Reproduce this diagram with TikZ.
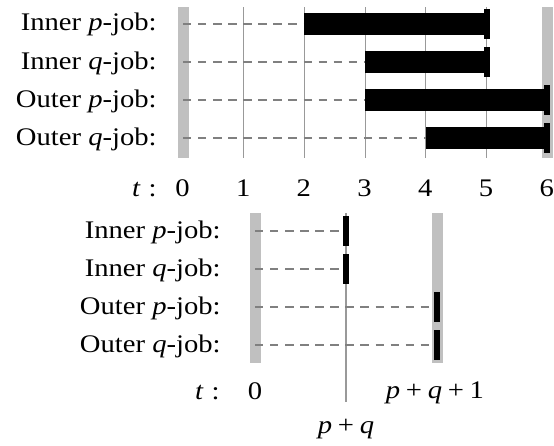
\documentclass[tikz,border=0pt]{standalone}
\usepackage{fontspec}
\setmainfont{Liberation Serif}
\definecolor{barg}{HTML}{C0C0C0}
\definecolor{dashg}{HTML}{808080}
\definecolor{lineg}{HTML}{999999}
\newcommand{\jp}{\textit{p}}
\newcommand{\jq}{\textit{q}}
\newcommand{\plus}{\hspace{0.2em}+\hspace{0.2em}}
\begin{document}
\begin{tikzpicture}[x=0.75pt,y=-0.75pt,
  txt/.style={font=\fontsize{19}{21}\selectfont, xscale=1.13, inner sep=0pt},
  lbl/.style={txt, anchor=base east},
  num/.style={txt, anchor=base},
  gbar/.style={fill=barg},
  tick/.style={draw=lineg, line width=0.85pt},
  dsh/.style={draw=dashg, line width=1.6pt, dash pattern=on 6.3pt off 5pt},
  jobbar/.style={fill=black},
]
\useasboundingbox (0,0) rectangle (554,446);

% ---------- top diagram ----------
\def\xo{183}\def\u{60.7}
\fill[gbar] (177.5,7) rectangle (188.5,158);
\fill[gbar] ({\xo+6*\u-5.5},7) rectangle ({\xo+6*\u+5.5},158);
\foreach \i in {1,...,5}
  \draw[tick] ({\xo+\i*\u},7) -- ({\xo+\i*\u},158);

\foreach \y/\s/\e [count=\k] in {24/2/5, 62/3/5, 100/3/6, 138/4/6} {
  \coordinate (ts\k) at (\xo,\y);
  \coordinate (tb\k) at ({\xo+\s*\u},\y);
  \coordinate (te\k) at ({\xo+\e*\u},\y);
  \draw[dsh] (ts\k) -- (tb\k);
  \fill[jobbar] ([yshift=-8.25pt]tb\k) rectangle ([yshift=8.25pt]te\k);
  \fill[jobbar] ([xshift=-2.25pt,yshift=-11.25pt]te\k) rectangle ([xshift=2.25pt,yshift=11.25pt]te\k);
}

\node[lbl] (l1) at (157,31) {Inner \jp-job:};
\node[lbl] (l2) at (157,69) {Inner \jq-job:};
\node[lbl] (l3) at (157,107) {Outer \jp-job:};
\node[lbl] (l4) at (157,145) {Outer \jq-job:};
\node[lbl] (taxis) at (157,196) {\textit{t}\hspace{0.28em}:};
\foreach \i in {0,...,6}
  \node[num] (n\i) at ({\xo+\i*\u-0.5},196) {\i};

% ---------- bottom diagram ----------
\def\bo{255}\def\bpq{346}\def\bpqo{437}
\fill[gbar] (249.5,213) rectangle (260.5,363);
\fill[gbar] (431.5,213) rectangle (442.5,363);
\draw[tick] (\bpq,213) -- (\bpq,402);

\foreach \y/\e [count=\k] in {231/\bpq, 269/\bpq, 307/\bpqo, 345/\bpqo} {
  \coordinate (bs\k) at (\bo,\y);
  \coordinate (be\k) at (\e,\y);
  \draw[dsh] (bs\k) -- (be\k);
  \fill[jobbar] ([xshift=-2.25pt,yshift=-11.25pt]be\k) rectangle ([xshift=2.25pt,yshift=11.25pt]be\k);
}

\node[lbl] (m1) at (221,238) {Inner \jp-job:};
\node[lbl] (m2) at (221,276) {Inner \jq-job:};
\node[lbl] (m3) at (221,314) {Outer \jp-job:};
\node[lbl] (m4) at (221,352) {Outer \jq-job:};
\node[lbl] (baxis) at (220,399) {\textit{t}\hspace{0.28em}:};
\node[num] (b0) at (\bo,399) {0};
\node[num] (bpq1) at (435,398) {\jp\plus\jq\plus 1};
\node[num] (bpq) at (\bpq,433) {\jp\plus\jq};
\end{tikzpicture}
\end{document}
